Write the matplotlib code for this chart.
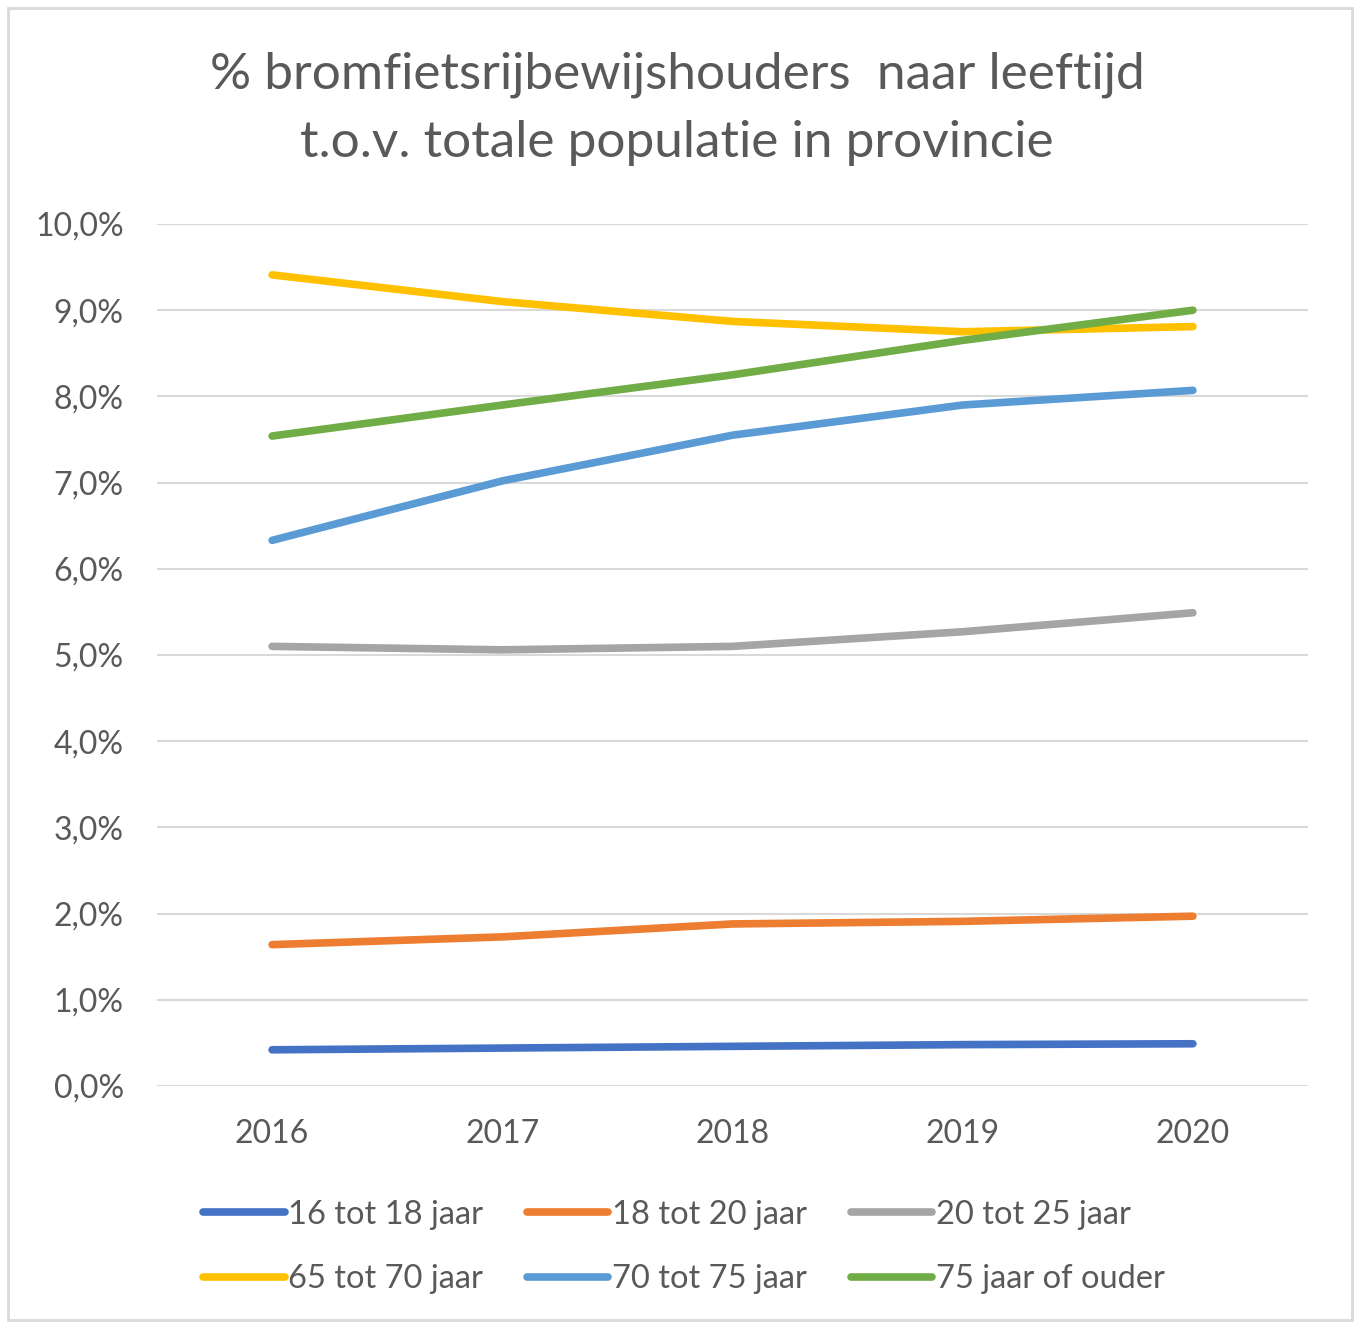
import matplotlib.pyplot as plt
from matplotlib.patches import Rectangle
from matplotlib.ticker import FuncFormatter

years = ['2016', '2017', '2018', '2019', '2020']

leeftijd_16_18 = [0.42, 0.44, 0.46, 0.48, 0.49]
leeftijd_18_20 = [1.64, 1.73, 1.88, 1.91, 1.97]
leeftijd_20_25 = [5.10, 5.06, 5.10, 5.27, 5.49]
leeftijd_65_70 = [9.41, 9.10, 8.87, 8.75, 8.81]
leeftijd_70_75 = [6.33, 7.02, 7.55, 7.90, 8.07]
leeftijd_75_plus = [7.54, 7.90, 8.25, 8.65, 9.00]

series = [
    ('16 tot 18 jaar', leeftijd_16_18, '#4472C4'),
    ('18 tot 20 jaar', leeftijd_18_20, '#ED7D31'),
    ('20 tot 25 jaar', leeftijd_20_25, '#A5A5A5'),
    ('65 tot 70 jaar', leeftijd_65_70, '#FFC000'),
    ('70 tot 75 jaar', leeftijd_70_75, '#5B9BD5'),
    ('75 jaar of ouder', leeftijd_75_plus, '#70AD47'),
]

plt.rcParams['font.family'] = ['Lato', 'DejaVu Sans']

fig = plt.figure(figsize=(13.54, 13.25), dpi=100)
fig.patches.append(Rectangle((8 / 1354, 5 / 1325), 1344 / 1354, 1312 / 1325,
                             transform=fig.transFigure, fill=False,
                             edgecolor='#D9D9D9', linewidth=2))

ax = fig.add_axes([157 / 1354, 1 - 1086 / 1325, 1151 / 1354, 862 / 1325])

x = range(len(years))
handles = []
for label, vals, color in series:
    h, = ax.plot(x, vals, color=color, linewidth=5.5, label=label,
                 solid_capstyle='round')
    handles.append(h)

ax.set_xlim(-0.5, 4.5)
ax.set_ylim(0, 10)
ax.set_yticks(range(0, 11))
ax.yaxis.set_major_formatter(FuncFormatter(lambda v, p: f'{v:.1f}%'.replace('.', ',')))
ax.set_xticks(list(x))
ax.set_xticklabels(years)
ax.grid(axis='y', color='#D9D9D9', linewidth=1.5)
ax.set_axisbelow(True)
for s in ax.spines.values():
    s.set_visible(False)
ax.tick_params(length=0, labelsize=23, colors='#595959')
ax.tick_params(axis='y', pad=24)
ax.tick_params(axis='x', pad=24)

fig.text(0.5, 1 - 75 / 1325, '% bromfietsrijbewijshouders  naar leeftijd',
         ha='center', va='center', fontsize=37, color='#595959')
fig.text(0.5, 1 - 143 / 1325, 't.o.v. totale populatie in provincie',
         ha='center', va='center', fontsize=37, color='#595959')

order = [0, 3, 1, 4, 2, 5]
leg = fig.legend([handles[i] for i in order], [series[i][0] for i in order],
                 ncol=3, loc='center', bbox_to_anchor=(0.505, 1 - 1247 / 1325),
                 frameon=False, fontsize=23.5, handlelength=2.5, handletextpad=0.1,
                 columnspacing=1.35, labelspacing=1.05)
for t in leg.get_texts():
    t.set_color('#595959')

plt.savefig('out.png', dpi=100)
